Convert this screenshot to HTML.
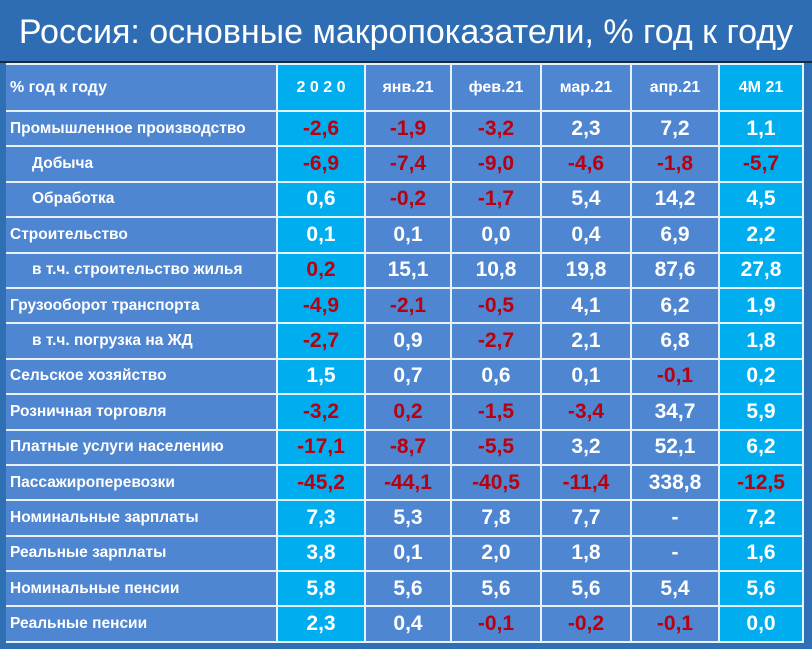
<!DOCTYPE html>
<html><head><meta charset="utf-8"><style>
body{margin:0;width:812px;height:649px;background:#2F6FB3;overflow:hidden;font-family:"Liberation Sans",sans-serif}
#title{position:absolute;left:0;top:0;width:812px;height:61px;background:#2E6DB4;border-bottom:2px solid #1a2a40;color:#fff;font-size:34px;text-align:center;line-height:64px}
table{position:absolute;left:6px;top:63px;border-collapse:collapse;table-layout:fixed}
td{border:2px solid #e8f0fa;background:#4E86D2;color:#fff;font-weight:bold;text-align:center;font-size:21px;height:33.4px;padding:0;white-space:nowrap;vertical-align:middle}
tr.h td{height:45px;font-size:16px}
td.l{text-align:left;font-size:15.5px;padding-left:4px;border-left:none}
td.c{background:#00AEEF}
.n{color:#B8000F}
td.i{padding-left:26px}
</style></head><body>
<div id="title">Россия: основные макропоказатели, % год к году</div>
<table>
<colgroup><col style="width:271px"><col style="width:88px"><col style="width:86px"><col style="width:90px"><col style="width:90px"><col style="width:88px"><col style="width:84px"></colgroup>
<tbody id="tb"></tbody></table>
<script>
const headers=["% год к году","2 0 2 0","янв.21","фев.21","мар.21","апр.21","4M 21"];
const labels=["Промышленное производство","Добыча","Обработка","Строительство","в т.ч. строительство жилья","Грузооборот транспорта","в т.ч. погрузка на ЖД","Сельское хозяйство","Розничная торговля","Платные услуги населению","Пассажироперевозки","Номинальные зарплаты","Реальные зарплаты","Номинальные пенсии","Реальные пенсии"];
const indented=[1,2,4,6];
const values=[
["-2,6","-1,9","-3,2","2,3","7,2","1,1"],
["-6,9","-7,4","-9,0","-4,6","-1,8","-5,7"],
["0,6","-0,2","-1,7","5,4","14,2","4,5"],
["0,1","0,1","0,0","0,4","6,9","2,2"],
["0,2","15,1","10,8","19,8","87,6","27,8"],
["-4,9","-2,1","-0,5","4,1","6,2","1,9"],
["-2,7","0,9","-2,7","2,1","6,8","1,8"],
["1,5","0,7","0,6","0,1","-0,1","0,2"],
["-3,2","0,2","-1,5","-3,4","34,7","5,9"],
["-17,1","-8,7","-5,5","3,2","52,1","6,2"],
["-45,2","-44,1","-40,5","-11,4","338,8","-12,5"],
["7,3","5,3","7,8","7,7","-","7,2"],
["3,8","0,1","2,0","1,8","-","1,6"],
["5,8","5,6","5,6","5,6","5,4","5,6"],
["2,3","0,4","-0,1","-0,2","-0,1","0,0"]];
const redOverride={"4,0":1,"8,1":1};
const tb=document.getElementById('tb');
const hr=document.createElement('tr');hr.className='h';


headers.forEach((h,i)=>{const td=document.createElement('td');td.textContent=h;
if(i==0)td.className='l';if(i==1||i==6)td.className='c';


hr.appendChild(td);});
tb.appendChild(hr);
labels.forEach((lab,r)=>{const tr=document.createElement('tr');


const l=document.createElement('td');l.textContent=lab;l.className='l'+(indented.includes(r)?' i':'');


tr.appendChild(l);
values[r].forEach((v,c)=>{const td=document.createElement('td');td.textContent=v;
let cls=(c==0||c==5)?'c':'';
if(v.startsWith('-')&&v!=='-'||redOverride[r+','+c])cls+=' n';
td.className=cls;


tr.appendChild(td);});
tb.appendChild(tr);});
</script>
</body></html>
